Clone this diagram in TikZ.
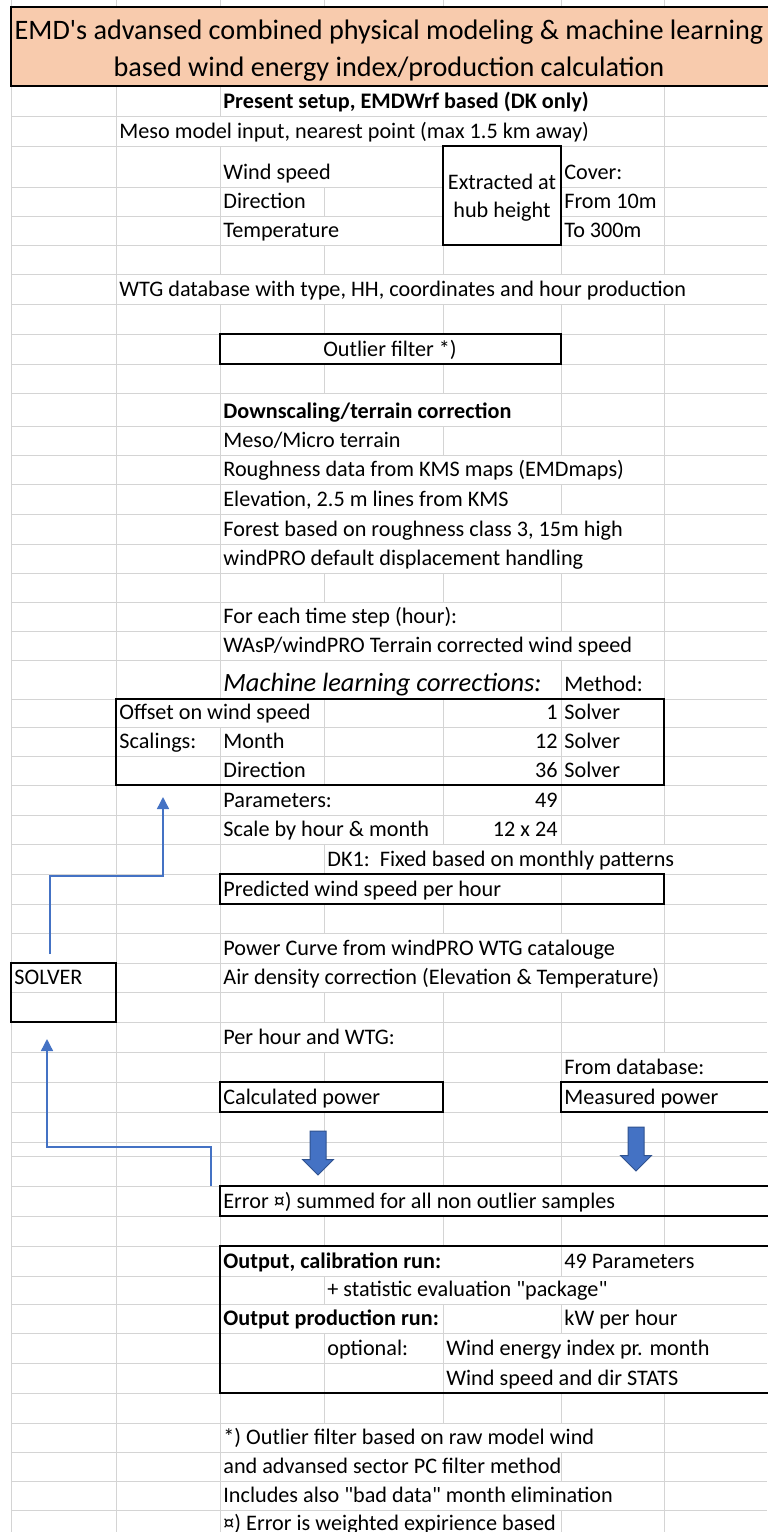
\documentclass[tikz,border=0pt]{standalone}
\usepackage{fontspec}
\setmainfont{Carlito}
\usetikzlibrary{arrows.meta,positioning,fit,shapes.arrows}
\definecolor{gridc}{HTML}{D4D4D4}
\definecolor{head}{HTML}{F8CBAD}
\definecolor{flow}{HTML}{4472C4}
\definecolor{flowdk}{HTML}{2F528F}
\newcommand{\bodyfont}{\fontsize{11.1}{14}\selectfont}
\newcommand{\headfont}{\fontsize{14.1}{18.5}\selectfont}
\newcommand{\q}{\textquotedbl}
\tikzset{
  gridline/.style={draw=gridc,line width=0.5pt},
  cell/.style={anchor=base west,inner sep=0pt,font=\bodyfont},
  numcell/.style={anchor=base east,inner sep=0pt,font=\bodyfont},
  boldcell/.style={cell,font=\bodyfont\bfseries},
  boxline/.style={draw=black,line width=1pt,inner sep=0pt},
  link/.style={draw=flow,line width=0.7pt,-{Triangle[length=6pt,width=6pt]}},
  downarrow/.style={single arrow,draw=flowdk,fill=flow,line width=0.5pt,rotate=-90,
    minimum height=22pt,inner xsep=0pt,inner ysep=3.75pt,single arrow head extend=3.75pt},
}

\begin{document}
\begin{tikzpicture}[x=0.5pt,y=-0.5pt]
\fill[white] (0,0) rectangle (767,1532);
\useasboundingbox (0,0) rectangle (767,1532);
% sheet grid
\draw[gridline] (11,0) -- (11,1540);
\foreach \y in {116,146,187,216,245,274,304,334,364,393,426,455,484,514,544,573,602,631,660,699,727,756,785,815,844,874,904,933,963,992,1022,1052,1082,1112,1142,1156,1186,1216,1246,1276,1304,1333,1363,1393,1423,1452,1481,1510}
  \draw[gridline] (11,\y) -- (767,\y);
\foreach \ya/\yb/\xs in {0/7/{116,220,324,443,561,664},86/116/{116,220,664},116/146/{116,664},
    146/187/{116,220,664},187/216/{116,220,324,664},216/245/{116,220,664},245/274/{116,220,324,443,561,664},
    274/304/{116},304/334/{116,220,324,443,561,664},334/364/{116,664},364/393/{116,220,324,443,561,664},
    393/426/{116,220,561,664},426/455/{116,220,443,561,664},455/484/{116,220,664},484/514/{116,220,561,664},
    514/544/{116,220,664},544/573/{116,220,664},573/602/{116,220,324,443,561,664},602/631/{116,220,561,664},
    631/660/{116,220,664},660/699/{116,220,561,664},699/727/{324,443,561},727/756/{220,324,443,561},
    756/785/{220,324,443,561},785/815/{116,220,443,561,664},815/844/{116,220,443,561,664},844/874/{116,220,324},
    874/904/{116,561},904/933/{116,220,324,443,561,664},933/963/{116,220,664},963/992/{220,664},
    992/1022/{220,324,443,561,664},1022/1052/{116,220,443,561,664},1052/1082/{116,220,324,443,561},
    1082/1112/{116},1112/1186/{116,220,324,443,561,664},1186/1216/{116,664},1216/1246/{116,220,324,443,561,664},
    1246/1276/{116,561},1276/1304/{116,324},1304/1333/{116,443,561},1333/1363/{116,324,443},1363/1393/{116,324,443},
    1393/1423/{116,220,324,443,561,664},1423/1452/{116,220,664},1452/1481/{116,220,561,664},
    1481/1510/{116,220,664},1510/1540/{116,220,561,664}}
  \foreach \x in \xs \draw[gridline] (\x,\ya) -- (\x,\yb);
% heading
\draw[boxline,fill=head] (11,7) rectangle (790,86);
\node[font=\headfont,align=center,inner sep=0pt] (title) at (389,51)
  {EMD\textquotesingle s advansed combined physical modeling \& machine learning\\based wind energy index/production calculation};
% framed cells
\node[boxline,fill=white,fit={(443,146) (561,245)}] (extractbox) {};
\node[boxline,fit={(220,334) (561,364)}] (outlierbox) {};
\node[boxline,fit={(116,699) (664,785)}] (offsetbox) {};
\node[boxline,fit={(220,874) (664,904)}] (predictbox) {};
\node[boxline,fit={(11,963) (116,1022)}] (solverbox) {};
\node[boxline,fit={(220,1082) (443,1112)}] (calcbox) {};
\node[boxline,fit={(561,1082) (790,1112)}] (measbox) {};
\node[boxline,fit={(220,1186) (790,1216)}] (errorbox) {};
\node[boxline,fit={(220,1246) (790,1393)}] (outputbox) {};
% cell texts
\node[boldcell] (setup) at (223,108) {Present setup, EMDWrf based (DK only)};
\node[cell] (meso) at (119,138) {Meso model input, nearest point (max 1.5 km away)};
\node[cell] (ws) at (223,179) {Wind speed};
\node[cell] (dir) at (223,208) {Direction};
\node[cell] (temp) at (223,237) {Temperature};
\node[font=\bodyfont,align=center,inner sep=0pt] (extract) at ([yshift=-1pt]extractbox.center) {Extracted at\\hub height};
\node[cell] (cover) at (564,179) {Cover:};
\node[cell] (from) at (564,208) {From 10m};
\node[cell] (to) at (564,237) {To 300m};
\node[cell] (wtg) at (119,296) {WTG database with type, HH, coordinates and hour production};
\node[font=\bodyfont,anchor=base,inner sep=0pt] (outlier) at (390,356) {Outlier filter *)};
\node[boldcell] (down) at (223,418) {Downscaling/terrain correction};
\node[cell] (terrain) at (223,447) {Meso/Micro terrain};
\node[cell] (rough) at (223,476) {Roughness data from KMS maps (EMDmaps)};
\node[cell] (elev) at (223,506) {Elevation, 2.5 m lines from KMS};
\node[cell] (forest) at (223,536) {Forest based on roughness class 3, 15m high};
\node[cell] (displ) at (223,565) {windPRO default displacement handling};
\node[cell] (step) at (223,623) {For each time step (hour):};
\node[cell] (wasp) at (223,652) {WAsP/windPRO Terrain corrected wind speed};
\node[cell,font=\fontsize{13.2}{15}\selectfont\itshape] (ml) at (223,691) {Machine learning corrections:};
\node[cell] (method) at (564,691) {Method:};
\node[cell] (offset) at (119,719) {Offset on wind speed};
\node[numcell] (n1) at (558,719) {1};
\node[cell] (s1) at (564,719) {Solver};
\node[cell] (scal) at (119,748) {Scalings:};
\node[cell] (month) at (223,748) {Month};
\node[numcell] (n12) at (558,748) {12};
\node[cell] (s2) at (564,748) {Solver};
\node[cell] (mdir) at (223,777) {Direction};
\node[numcell] (n36) at (558,777) {36};
\node[cell] (s3) at (564,777) {Solver};
\node[cell] (par) at (223,807) {Parameters:};
\node[numcell] (n49) at (558,807) {49};
\node[cell] (hourscale) at (223,836) {Scale by hour \& month};
\node[numcell] (n288) at (558,836) {12 x 24};
\node[cell] (dk) at (327,866) {DK1:\ \ Fixed based on monthly patterns};
\node[cell] (pred) at (223,896) {Predicted wind speed per hour};
\node[cell] (pc) at (223,955) {Power Curve from windPRO WTG catalouge};
\node[cell] (solver) at (14,984) {SOLVER};
\node[cell] (air) at (223,984) {Air density correction (Elevation \& Temperature)};
\node[cell] (perhour) at (223,1044) {Per hour and WTG:};
\node[cell] (fromdb) at (564,1074) {From database:};
\node[cell] (calc) at (223,1104) {Calculated power};
\node[cell] (meas) at (564,1104) {Measured power};
\node[cell] (err) at (223,1208) {Error ¤) summed for all non outlier samples};
\node[boldcell] (calrun) at (223,1268) {Output, calibration run:};
\node[cell] (npar) at (564,1268) {49 Parameters};
\node[cell] (stat) at (327,1296) {+ statistic evaluation \q package\q};
\node[boldcell] (prodrun) at (223,1325) {Output production run:};
\node[cell] (kw) at (564,1325) {kW per hour};
\node[cell] (opt) at (327,1355) {optional:};
\node[cell] (index) at (446,1355) {Wind energy index pr. month};
\node[cell] (stats) at (446,1385) {Wind speed and dir STATS};
\node[cell] (note1) at (223,1444) {*) Outlier filter based on raw model wind};
\node[cell] (note2) at (223,1473) {and advansed sector PC filter method};
\node[cell] (note3) at (223,1502) {Includes also \q bad data\q\ month elimination};
\node[cell] (note4) at (223,1530) {¤) Error is weighted expirience based};
% feedback lines
\coordinate (solverout) at (50,954);
\coordinate (bendup) at (163,876);
\coordinate (offsetin) at (163,797);
\draw[link] (solverout) |- (bendup) -- (offsetin);
\coordinate (errorout) at (211,1186);
\coordinate (bendleft) at (47,1147);
\coordinate (solverin) at (47,1039);
\draw[link] (errorout) |- (bendleft) -- (solverin);
% block arrows
\node[downarrow] (calcdown) at (318,1149) {};
\node[downarrow] (measdown) at (636,1145) {};
\end{tikzpicture}
\end{document}
